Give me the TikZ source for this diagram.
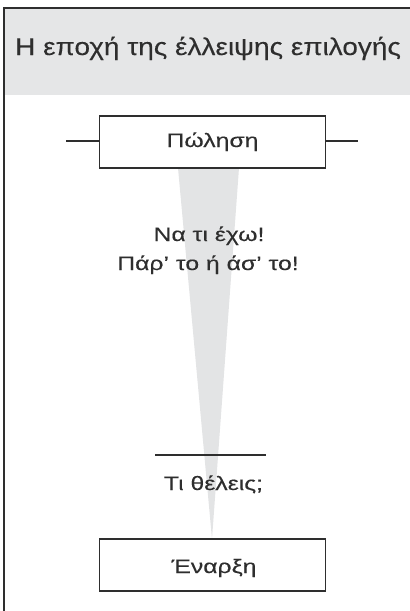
\documentclass[tikz,border=0pt]{standalone}
\usepackage{fontspec}
\setmainfont{Liberation Sans}
\newfontfamily\bodyfont[FakeStretch=1.27,FakeBold=0.2]{Liberation Sans}
\newfontfamily\titlefont[FakeStretch=1.15,FakeBold=0.2]{Liberation Sans}
\definecolor{hdrgray}{HTML}{E5E6E7}
\definecolor{wedgegray}{HTML}{E3E4E5}
\definecolor{ink}{HTML}{2E2E2E}
\begin{document}
\begin{tikzpicture}[x=1pt,y=-1pt,
  stagebox/.style={draw=ink,line width=1.6pt,fill=white,minimum width=226pt,minimum height=52pt,inner sep=0pt,text=ink},
  boxtext/.style={font=\bodyfont\fontsize{19.5}{20}\selectfont,text=ink,inner sep=0pt},
  lbl/.style={font=\bodyfont\fontsize{19.5}{28}\selectfont,text=ink,inner sep=0pt},
  stub/.style={draw=ink,line width=2.4pt}]
\useasboundingbox (0,0) rectangle (410,611);
% header
\fill[hdrgray] (4,8) rectangle (410,95);
\draw[ink,line width=2pt] (4,611) -- (4,8) -- (410,8);
\node[anchor=base west,inner sep=0pt,font=\titlefont\fontsize{24.3}{28}\selectfont,text=ink] (title) at (15,55) {Η εποχή της έλλειψης επιλογής};
% wedge
\fill[wedgegray] (178,168) -- (239,168) -- (212,539) -- cycle;
% boxes
\node[stagebox] (sale) at (212.5,142) {};
\node[stagebox] (start) at (212.5,565) {};
\node[boxtext,anchor=base] (saletxt) at (212.5,147) {Πώληση};
\node[boxtext,anchor=base] (starttxt) at (214,573) {Έναρξη};
\coordinate (sl) at (66,141);
\coordinate (sr) at (358,141);
\draw[stub] (sl) -- (sale.west |- sl);
\draw[stub] (sale.east |- sr) -- (sr);
% texts
\node[lbl,anchor=base] (t1) at (209,241) {Να τι έχω!};
\node[lbl,anchor=base] (t2) at (208,270) {Πάρ’ το ή άσ’ το!};
\coordinate (ba) at (155,455);
\coordinate (bb) at (266,455);
\draw[ink,line width=2.8pt] (ba) -- (bb);
\node[lbl,anchor=base] (t3) at (213.5,490) {Τι θέλεις;};
\end{tikzpicture}
\end{document}
